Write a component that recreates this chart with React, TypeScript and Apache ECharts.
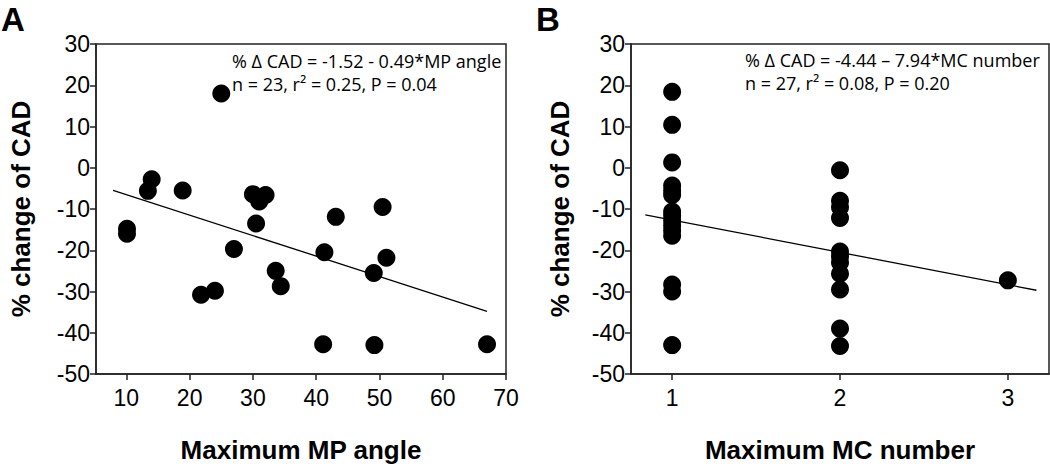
import React, { useEffect, useRef } from "react";
import * as echarts from "echarts";

// Panel A: Maximum MP angle vs % change of CAD
const angleA = [25.0, 14.0, 13.4, 18.9, 30.0, 32.0, 31.0, 30.5, 10.1, 10.1, 27.0, 21.8, 24.0, 33.6, 34.4, 41.3, 43.1, 50.5, 51.1, 49.1, 41.1, 49.2, 67.0];
const cadA = [18.0, -2.8, -5.6, -5.5, -6.4, -6.6, -8.2, -13.5, -14.8, -16.0, -19.7, -30.8, -29.8, -25.0, -28.7, -20.5, -11.9, -9.5, -21.8, -25.5, -42.8, -43.0, -42.8];
const fitAx = [7.9, 67.0];
const fitAy = [-5.5, -34.8];

// Panel B: Maximum MC number vs % change of CAD
const mcB = [1, 1, 1, 1, 1, 1, 1, 1, 1, 1, 1, 1, 1, 1, 1, 2, 2, 2, 2, 2, 2, 2, 2, 2, 2, 2, 3];
const cadB = [18.4, 10.4, 1.3, -4.3, -5.5, -6.6, -10.6, -11.6, -12.8, -14.0, -15.2, -16.5, -28.3, -30.0, -43.0, -0.6, -8.0, -9.6, -12.2, -20.3, -21.5, -23.0, -25.7, -29.5, -39.0, -43.2, -27.3];
const fitBx = [0.84, 3.17];
const fitBy = [-11.4, -29.7];

const xTicksA = [10, 20, 30, 40, 50, 60, 70];
const xTicksB = [1, 2, 3];

const AX = "#222";
const FONT = "Liberation Sans";

export default function App() {
  const ref = useRef<HTMLDivElement>(null);
  useEffect(() => {
    if (!ref.current) return;
    const chart = echarts.init(ref.current, null, { renderer: "svg" });
    const yAxisBase = (idx: number, gap: number) => ({
      type: "value",
      gridIndex: idx,
      min: -50,
      max: 30,
      interval: 10,
      name: "% change of CAD",
      nameLocation: "middle",
      nameGap: gap,
      nameTextStyle: { fontFamily: FONT, fontWeight: "bold", fontSize: 26, color: "#000" },
      axisLine: { show: true, lineStyle: { color: AX, width: 1.5 } },
      axisTick: { show: true, length: 6, lineStyle: { color: AX, width: 1.5 } },
      axisLabel: { fontFamily: FONT, fontSize: 23, color: "#000", margin: 6 },
      splitLine: { show: false },
    });
    const xAxisBase = (idx: number, min: number, max: number, ticks: number[], name: string) => ({
      type: "value",
      gridIndex: idx,
      min,
      max,
      name,
      nameLocation: "middle",
      nameGap: 63,
      nameTextStyle: { fontFamily: FONT, fontWeight: "bold", fontSize: 26, color: "#000" },
      axisLine: { show: true, onZero: false, lineStyle: { color: AX, width: 1.5 } },
      axisTick: { show: true, length: 6, customValues: ticks, lineStyle: { color: AX, width: 1.5 } },
      axisLabel: { fontFamily: FONT, fontSize: 23, color: "#000", margin: 12, customValues: ticks },
      splitLine: { show: false },
    });
    const annot = (x: number, y: number, text: string) => ({
      type: "text",
      left: x,
      top: y,
      style: { text, fontFamily: "Open Sans", fontSize: 18, fill: "#000" },
    });
    chart.setOption({
      animation: false,
      grid: [
        { left: 96, top: 44, width: 410, height: 332, show: true, borderColor: AX, borderWidth: 1.5, backgroundColor: "#fff" },
        { left: 631, top: 44, width: 418, height: 332, show: true, borderColor: AX, borderWidth: 1.5, backgroundColor: "#fff" },
      ],
      xAxis: [
        xAxisBase(0, 5.2, 70, xTicksA, "Maximum MP angle"),
        xAxisBase(1, 0.755, 3.245, xTicksB, "Maximum MC number"),
      ],
      yAxis: [yAxisBase(0, 62), yAxisBase(1, 58)],
      series: [
        {
          type: "scatter",
          xAxisIndex: 0,
          yAxisIndex: 0,
          symbolSize: 18,
          itemStyle: { color: "#000", opacity: 1 },
          data: angleA.map((v, i) => [v, cadA[i]]),
        },
        {
          type: "line",
          xAxisIndex: 0,
          yAxisIndex: 0,
          showSymbol: false,
          symbol: "none",
          lineStyle: { color: "#000", width: 1.3 },
          data: fitAx.map((v, i) => [v, fitAy[i]]),
        },
        {
          type: "scatter",
          xAxisIndex: 1,
          yAxisIndex: 1,
          symbolSize: 18,
          itemStyle: { color: "#000", opacity: 1 },
          data: mcB.map((v, i) => [v, cadB[i]]),
        },
        {
          type: "line",
          xAxisIndex: 1,
          yAxisIndex: 1,
          showSymbol: false,
          symbol: "none",
          lineStyle: { color: "#000", width: 1.3 },
          data: fitBx.map((v, i) => [v, fitBy[i]]),
        },
      ],
      graphic: [
        { type: "text", left: 1, top: 3, style: { text: "A", fontFamily: FONT, fontWeight: "bold", fontSize: 33, fill: "#000" } },
        { type: "text", left: 536, top: 3, style: { text: "B", fontFamily: FONT, fontWeight: "bold", fontSize: 33, fill: "#000" } },
        annot(232, 52, "% Δ CAD = -1.52 - 0.49*MP angle"),
        annot(232, 75, "n = 23, r² = 0.25, P = 0.04"),
        annot(745, 51, "% Δ CAD = -4.44 – 7.94*MC number"),
        annot(745, 74, "n = 27, r² = 0.08, P = 0.20"),
      ],
    });
    return () => chart.dispose();
  }, []);
  return (
    <div
      ref={ref}
      style={{ position: "fixed", left: 0, top: 0, width: 1050, height: 468, background: "#fff" }}
    />
  );
}
